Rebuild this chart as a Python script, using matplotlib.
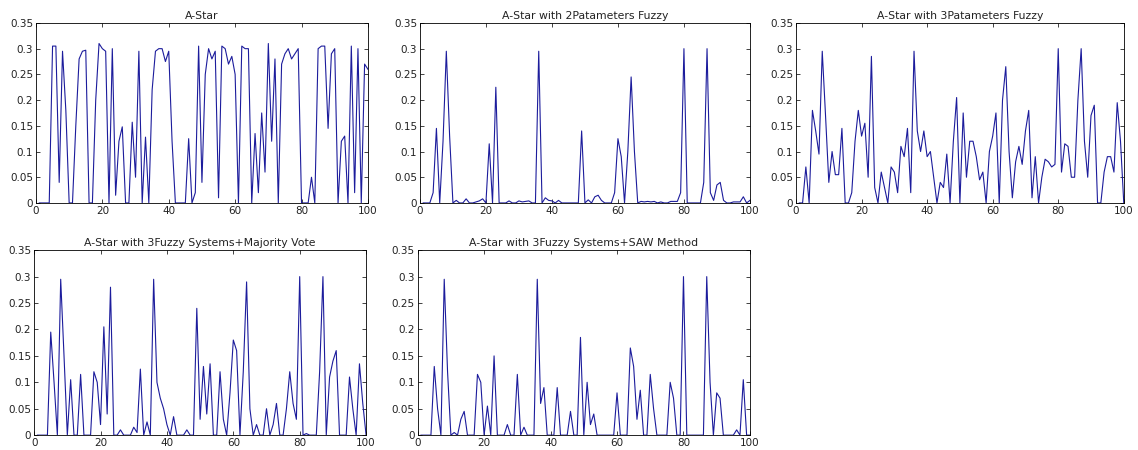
import numpy as np
import matplotlib
matplotlib.use('Agg')
import matplotlib.pyplot as plt

# run index 1..100
steps = np.arange(1, 101)

titles = ['A-Star',
          'A-Star with 2Patameters Fuzzy',
          'A-Star with 3Patameters Fuzzy',
          'A-Star with 3Fuzzy Systems+Majority Vote',
          'A-Star with 3Fuzzy Systems+SAW Method']

astar = [0, 0, 0, 0, 0.305, 0.305, 0.04, 0.295, 0.18, 0,
         0, 0.15, 0.28, 0.295, 0.297, 0, 0, 0.2, 0.31, 0.30,
         0.295, 0.0, 0.30, 0.015, 0.12, 0.148, 0, 0, 0.157, 0.05,
         0.295, 0.0, 0.128, 0, 0.22, 0.295, 0.30, 0.30, 0.275, 0.295,
         0.12, 0, 0, 0, 0, 0.125, 0, 0.02, 0.305, 0.04,
         0.25, 0.30, 0.28, 0.295, 0.01, 0.305, 0.30, 0.27, 0.285, 0.25,
         0, 0.305, 0.30, 0.30, 0, 0.135, 0.02, 0.175, 0.06, 0.31,
         0.12, 0.28, 0, 0.27, 0.29, 0.30, 0.28, 0.29, 0.30, 0,
         0, 0, 0.05, 0, 0.30, 0.305, 0.305, 0.145, 0.29, 0.30,
         0, 0.12, 0.13, 0, 0.305, 0.02, 0.30, 0, 0.27, 0.26]

fuzzy2 = [0, 0, 0, 0.02, 0.145, 0.0, 0.12, 0.295, 0.13, 0,
          0.005, 0, 0, 0.008, 0, 0, 0.002, 0.004, 0.008, 0,
          0.115, 0, 0.225, 0, 0, 0, 0.004, 0, 0, 0.004,
          0.002, 0.003, 0.004, 0, 0, 0.295, 0, 0.01, 0.005, 0.004,
          0, 0.005, 0, 0, 0, 0, 0, 0, 0.14, 0,
          0.006, 0, 0.012, 0.015, 0.005, 0, 0, 0, 0.02, 0.125,
          0.09, 0, 0.1, 0.245, 0.1, 0, 0.003, 0.002, 0.003, 0.002,
          0.003, 0, 0.002, 0, 0, 0.003, 0.003, 0.003, 0.02, 0.30,
          0, 0, 0, 0, 0, 0.04, 0.30, 0.02, 0.005, 0.035,
          0.04, 0.005, 0, 0, 0.002, 0.002, 0.002, 0.012, 0, 0.005]

fuzzy3 = [0, 0, 0.07, 0, 0.18, 0.14, 0.095, 0.295, 0.17, 0.04,
          0.1, 0.055, 0.055, 0.145, 0, 0, 0.02, 0.12, 0.18, 0.13,
          0.155, 0.05, 0.285, 0.03, 0, 0.06, 0.03, 0, 0.07, 0.06,
          0.02, 0.11, 0.09, 0.145, 0.02, 0.295, 0.14, 0.1, 0.14, 0.09,
          0.1, 0.05, 0, 0.04, 0.03, 0.095, 0, 0.12, 0.205, 0,
          0.175, 0.05, 0.12, 0.12, 0.09, 0.045, 0.06, 0, 0.1, 0.13,
          0.175, 0, 0.2, 0.265, 0.1, 0.01, 0.08, 0.11, 0.075, 0.14,
          0.18, 0.01, 0.09, 0, 0.05, 0.085, 0.08, 0.07, 0.075, 0.30,
          0.06, 0.115, 0.11, 0.05, 0.05, 0.2, 0.30, 0.12, 0.05, 0.17,
          0.19, 0, 0, 0.06, 0.09, 0.09, 0.06, 0.195, 0.12, 0]

majority = [0, 0, 0, 0, 0.195, 0.1, 0, 0.295, 0.15, 0,
            0.105, 0, 0, 0.115, 0, 0, 0, 0.12, 0.1, 0.02,
            0.205, 0.04, 0.28, 0, 0, 0.01, 0, 0, 0, 0.015,
            0.005, 0.125, 0, 0.025, 0, 0.295, 0.1, 0.07, 0.05, 0.02,
            0, 0.035, 0, 0, 0, 0.01, 0, 0, 0.24, 0.03,
            0.13, 0.04, 0.135, 0, 0, 0.12, 0.03, 0, 0.08, 0.18,
            0.16, 0, 0.12, 0.29, 0.05, 0, 0.02, 0, 0, 0.05,
            0, 0.02, 0.06, 0, 0, 0.05, 0.12, 0.06, 0.03, 0.30,
            0, 0.003, 0, 0, 0, 0.12, 0.30, 0, 0.11, 0.14,
            0.16, 0, 0, 0, 0.11, 0.05, 0, 0.135, 0.06, 0]

saw = [0, 0, 0, 0, 0.13, 0.05, 0, 0.295, 0.12, 0,
       0.005, 0, 0.03, 0.045, 0, 0, 0, 0.115, 0.1, 0,
       0.055, 0, 0.15, 0, 0, 0, 0.02, 0, 0, 0.115,
       0, 0.015, 0, 0, 0, 0.295, 0.06, 0.09, 0, 0,
       0, 0.09, 0, 0, 0, 0.045, 0, 0, 0.185, 0,
       0.1, 0.02, 0.04, 0, 0, 0, 0, 0, 0, 0.08,
       0, 0, 0, 0.165, 0.13, 0.03, 0.085, 0, 0, 0.115,
       0.05, 0, 0, 0, 0, 0.1, 0.07, 0, 0, 0.30,
       0, 0, 0, 0, 0, 0, 0.30, 0.1, 0, 0.08,
       0.07, 0, 0, 0, 0, 0.01, 0, 0.105, 0, 0]

series = [astar, fuzzy2, fuzzy3, majority, saw]

# axes boxes in figure fractions (left, bottom, width, height)
boxes = [(0.0316, 0.549, 0.2917, 0.40),
         (0.369, 0.549, 0.290, 0.40),
         (0.6995, 0.549, 0.288, 0.40),
         (0.030, 0.033, 0.2917, 0.411),
         (0.367, 0.033, 0.292, 0.411)]

fig = plt.figure(figsize=(11.38, 4.5), dpi=100)
for box, title, y in zip(boxes, titles, series):
    ax = fig.add_axes(box)
    ax.plot(steps, y, color='#1c1c9c', linewidth=0.8)
    ax.set_xlim(0, 100)
    ax.set_ylim(0, 0.35)
    ax.set_xticks(np.arange(0, 101, 20))
    ax.set_yticks(np.arange(0, 0.36, 0.05))
    ax.set_yticklabels(['0', '0.05', '0.1', '0.15', '0.2', '0.25', '0.3', '0.35'])
    ax.tick_params(direction='in', top=True, right=True, labelsize=7.5,
                   length=3, width=0.6, pad=2, colors='#222222')
    for s in ax.spines.values():
        s.set_linewidth(0.6)
    ax.set_title(title, fontsize=7.8, pad=3, color='#222222')

plt.savefig('out.png', dpi=100)
